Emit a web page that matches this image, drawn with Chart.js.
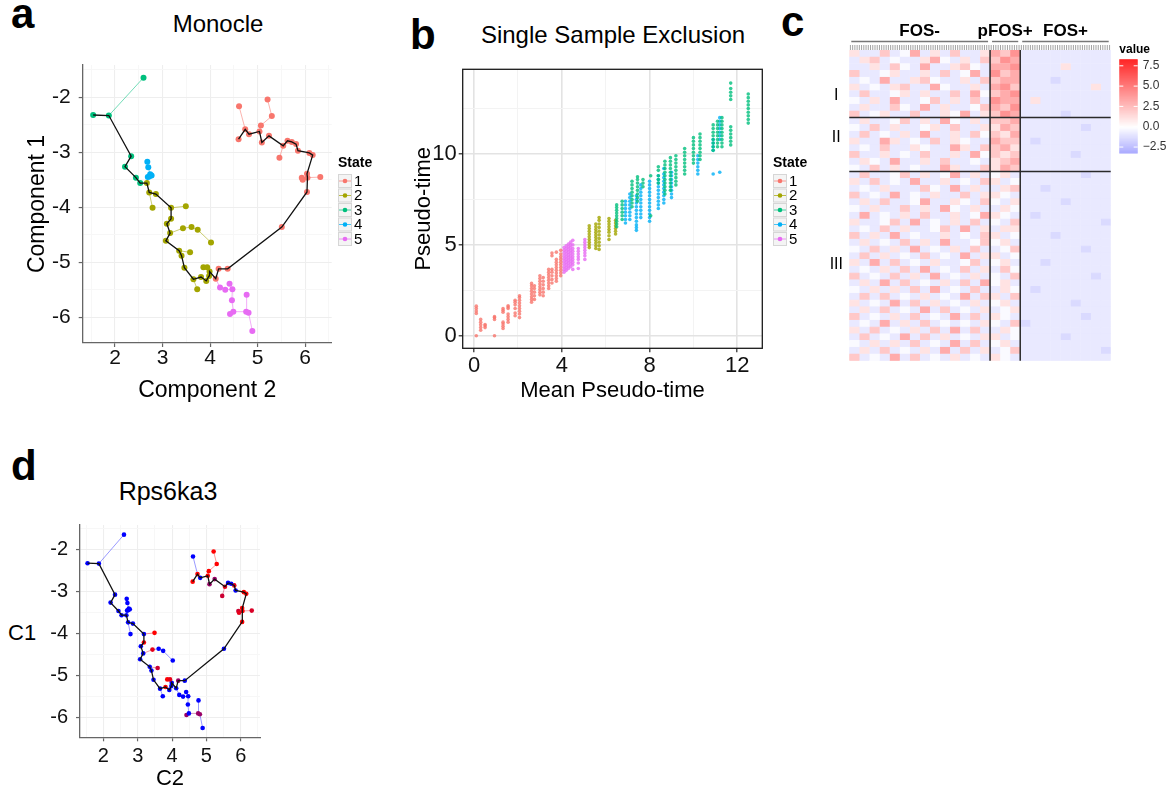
<!DOCTYPE html>
<html>
<head>
<meta charset="utf-8">
<title>Monocle trajectory figure</title>
<script src="https://cdn.jsdelivr.net/npm/chart.js@4.4.1/dist/chart.umd.min.js"></script>
<style>
  body { margin: 0; background: #fff; }
  #page { position: relative; width: 1169px; height: 794px; overflow: hidden; font-family: "Liberation Sans", Arial, sans-serif; }
  canvas { position: absolute; }
  .txt { position: absolute; white-space: nowrap; line-height: 1; color: #000; }
  .letter { font-weight: bold; font-size: 42px; }
  .title { font-size: 24px; transform: translateX(-50%); }
</style>
</head>
<body>
<div id="page">
  <div class="txt letter" style="left:11px;top:-7px">a</div>
  <div class="txt letter" style="left:410px;top:14px">b</div>
  <div class="txt letter" style="left:781px;top:1px">c</div>
  <div class="txt letter" style="left:11px;top:445px">d</div>

  <div class="txt title" style="left:218px;top:12px">Monocle</div>
  <div class="txt title" style="left:613px;top:23px">Single Sample Exclusion</div>
  <div class="txt title" style="left:168px;top:479px;font-size:25px">Rps6ka3</div>
  <div class="txt" style="left:8px;top:622px;font-size:22px">C1</div>

  <canvas id="chartA" width="400" height="404" style="left:0;top:0"></canvas>
  <canvas id="chartB" width="420" height="404" style="left:400px;top:0"></canvas>
  <canvas id="chartC" width="349" height="370" style="left:820px;top:0"></canvas>
  <canvas id="chartD" width="290" height="354" style="left:0;top:440px"></canvas>
</div>

<script>
// ---------- panel a / d : cells on the Monocle trajectory ----------
const cellX = [2.60, 1.54, 1.87, 2.34, 2.21, 2.44, 2.53,
  2.68, 2.70, 2.74, 2.69, 2.72, 2.77,
  2.67, 2.72, 2.86, 2.79, 3.18, 3.49, 3.18, 3.09, 3.16, 3.07, 3.43, 3.61, 3.74, 4.02, 3.35, 3.40, 3.58, 3.46, 3.65, 3.73, 3.81, 3.92, 3.98, 3.99, 3.86, 3.94,
  4.12, 4.18, 4.37, 5.51, 6.04, 6.05, 6.04, 5.93, 5.95, 6.32, 6.16, 6.09, 5.85, 5.81, 5.72, 5.63, 5.54, 5.46, 5.24, 5.09, 5.04, 4.82, 4.74, 4.60, 4.61, 5.21, 5.30, 5.07,
  4.21, 4.32, 4.41, 4.47, 4.46, 4.42, 4.49, 4.77, 4.76, 4.81, 4.89];
const cellY = [-1.64, -2.32, -2.33, -3.07, -3.26, -3.46, -3.56,
  -3.17, -3.27, -3.40, -3.45, -3.44, -3.42,
  -3.56, -3.73, -3.76, -4.01, -4.01, -3.98, -4.21, -4.30, -4.47, -4.61, -4.38, -4.36, -4.41, -4.64, -4.79, -4.88, -4.82, -5.10, -5.31, -5.49, -5.27, -5.34, -5.25, -5.17, -5.09, -5.09,
  -5.30, -5.12, -5.12, -4.36, -3.72, -3.46, -3.39, -3.46, -3.50, -3.45, -3.05, -3.01, -2.97, -2.85, -2.81, -2.79, -2.88, -3.10, -2.70, -2.82, -2.62, -2.67, -2.58, -2.76, -2.16, -2.04, -2.34, -2.51,
  -5.46, -5.50, -5.39, -5.49, -5.69, -5.94, -5.90, -5.59, -5.90, -5.92, -6.25];
const cellState = [3, 3, 3, 3, 3, 3, 3,
  4, 4, 4, 4, 4, 4,
  2, 2, 2, 2, 2, 2, 2, 2, 2, 2, 2, 2, 2, 2, 2, 2, 2, 2, 2, 2, 2, 2, 2, 2, 2, 2,
  1, 1, 1, 1, 1, 1, 1, 1, 1, 1, 1, 1, 1, 1, 1, 1, 1, 1, 1, 1, 1, 1, 1, 1, 1, 1, 1, 1,
  5, 5, 5, 5, 5, 5, 5, 5, 5, 5, 5];
// Rps6ka3 level per cell, 0 = low (blue) .. 1 = high (red)
const cellExpr = [0, 0, 0, 0, 0, 0, 0,
  0, 0, 0, 0, 0, 0,
  0, 0, 0, 0, 0, 1, 1, 0, 0, 0, 0.9, 0, 0, 0, 0, 0, 0.8, 0, 0, 0, 1, 0, 0, 0, 1, 0.9,
  0, 0.6, 0, 0, 1, 1, 1, 0.8, 0.9, 0.85, 1, 1, 0, 0.9, 0, 0, 0.9, 0.8, 0.6, 0.6, 1, 0, 1, 1, 0, 1, 1, 1,
  0, 0, 0, 0, 0, 0.6, 0, 0, 0.6, 0.6, 0];
const backbone = [1, 2, 3, 4, 5, 6, 13, 14, 15, 17, 19, 20, 21, 22, 27, 28, 30, 31, 33, 34, 35, 36,
  39, 40, 41, 42, 43, 44, 45, 49, 50, 51, 52, 53, 54, 55, 57, 58, 59, 60, 61, 62];
const branchEdges = [[2, 0],
  [13, 10], [10, 11], [11, 12], [12, 9], [9, 8], [8, 7],
  [14, 16], [17, 18], [21, 23], [23, 24], [24, 25], [25, 26], [27, 29], [31, 32], [36, 37], [37, 38],
  [61, 63], [59, 66], [66, 65], [65, 64], [55, 56], [44, 46], [44, 47], [44, 48],
  [39, 67], [67, 68], [68, 70], [69, 70], [70, 71], [71, 73], [73, 72], [73, 75], [75, 74], [75, 76], [76, 77]];

const stateNames = ['1', '2', '3', '4', '5'];
const stateColors = ['#F8766D', '#A3A500', '#00BF7D', '#00B0F6', '#E76BF3'];

const trajMajorX = [2, 3, 4, 5, 6];
const trajMinorX = [1.5, 2.5, 3.5, 4.5, 5.5, 6.5];
const trajMajorY = [-6, -5, -4, -3, -2];
const trajMinorY = [-5.5, -4.5, -3.5, -2.5, -1.5];

// ---------- panel b : single sample exclusion, columns of [mean pseudo-time, pseudo-times] ----------
const bState1 = [[0.1, [0, 1.23, 1.36, 1.5, 1.63]], [0.3, [0.3, 0.45, 0.6, 0.75, 0.9]], [0.5, [0.45, 0.55, 0.62]],
  [0.93, [0, 0.9, 1.0, 1.05]], [1.32, [0.4, 0.52, 0.65, 0.75, 1.3, 1.4, 1.5]],
  [1.55, [0.75, 0.9, 1.05, 1.2, 1.5, 1.58, 1.65]], [1.87, [1.1, 1.25, 1.5, 1.7, 1.85, 1.95]],
  [2.07, [1.0, 1.2, 1.35, 1.5, 1.65, 1.8, 1.95, 2.1, 2.2]],
  [2.62, [1.85, 2.0, 2.15, 2.3, 2.45, 2.6, 2.75, 2.88]], [2.75, [2.0, 2.2, 2.4, 2.6, 2.75]],
  [3.0, [2.25, 2.4, 2.55, 2.7, 2.85, 3.0, 3.15, 3.3]], [3.15, [2.2, 2.4, 2.6, 2.8, 3.0, 3.2]],
  [3.4, [2.6, 2.75, 2.9, 3.05, 3.2, 3.35, 3.5, 3.65]], [3.55, [2.9, 3.1, 3.3, 3.5, 3.65, 4.4, 4.55]],
  [3.75, [3.0, 3.15, 3.3, 3.45, 3.6, 3.75, 3.9, 4.05, 4.2, 4.6]],
  [3.95, [3.3, 3.45, 3.6, 3.75, 3.9, 4.05, 4.2, 4.35, 4.5, 4.7]]];
const bState2 = [[5.25, [4.85, 5.0, 5.15, 5.3, 5.45, 5.6, 5.75, 5.9, 6.05]],
  [5.55, [4.8, 4.95, 5.1, 5.25, 5.4, 5.55, 5.7, 5.85, 6.0, 6.15]],
  [5.7, [4.75, 4.95, 5.15, 5.35, 5.55, 5.75, 5.95, 6.15, 6.35, 6.5]],
  [6.15, [5.3, 5.5, 5.7, 5.85, 6.0, 6.15, 6.3, 6.45]], [6.45, [5.6, 5.75, 5.9, 6.05, 6.2, 6.35]]];
const bState3 = [[6.5, [6.0, 6.15, 6.3, 6.45, 6.6, 6.75, 6.9, 7.05, 7.2]], [6.75, [6.4, 6.6, 6.8, 7.0, 7.2, 7.4]],
  [7.2, [7.1, 7.3, 7.5, 7.7, 7.9, 8.1, 8.3, 8.5]], [7.45, [7.4, 7.6, 7.8, 8.0, 8.2, 8.4, 8.6, 8.75]],
  [7.7, [8.2, 8.4, 8.6]], [8.05, [6.6, 8.8]], [8.4, [8.4, 8.6, 8.8, 9.1, 9.3]],
  [8.7, [7.8, 8.0, 8.2, 8.4, 8.6, 8.8, 9.0, 9.2, 9.4, 9.6]],
  [8.95, [8.0, 8.2, 8.4, 8.6, 8.8, 9.0, 9.2, 9.4, 9.6, 9.8]],
  [9.2, [8.3, 8.5, 8.7, 8.9, 9.1, 9.3, 9.5, 9.7, 9.9]],
  [9.6, [8.9, 9.1, 9.3, 9.5, 9.7, 9.9, 10.1, 10.3]], [10.0, [9.5, 9.7, 9.9, 10.1, 10.3, 10.5, 10.7, 10.9]],
  [10.3, [9.7, 9.9, 10.1, 10.3, 10.5, 10.7, 10.9, 11.1]], [10.9, [10.2, 10.4, 10.6, 10.8, 11.0, 11.2, 11.4, 11.6]],
  [11.1, [10.4, 10.6, 10.8, 11.0, 11.2, 11.4, 11.6, 11.8]],
  [11.3, [10.4, 10.6, 10.8, 11.0, 11.2, 11.4, 11.6, 11.8, 12.0]],
  [11.7, [10.5, 10.7, 10.9, 11.1, 11.3, 11.5, 13.0, 13.2, 13.4, 13.6, 13.9]],
  [12.5, [11.7, 11.9, 12.1, 12.3, 12.5, 12.7, 12.9, 13.1, 13.3]]];
const bState4 = [[6.9, [6.2, 6.4, 6.6, 6.8, 7.0, 7.2, 7.4]], [7.1, [6.4, 6.6, 6.8, 7.0, 7.2, 7.4, 7.6, 7.8]],
  [7.4, [5.8, 5.95, 6.1, 6.3, 6.5, 6.7, 6.9, 7.1, 7.3, 7.5, 7.7]],
  [7.6, [6.5, 6.7, 6.9, 7.1, 7.3, 7.5, 7.7, 7.9, 8.1, 8.3]],
  [8.0, [6.3, 6.5, 6.7, 6.9, 7.1, 7.3, 7.5, 7.7, 7.9, 8.1, 8.3, 8.5]],
  [8.4, [7.0, 7.2, 7.4, 7.6, 7.8, 8.0, 8.2, 8.4, 8.6, 8.8]],
  [8.65, [7.3, 7.5, 7.7, 7.9, 8.1, 8.3, 8.5, 8.7, 8.9, 9.2]], [9.0, [7.6, 7.8, 8.0, 8.2, 8.4, 8.6, 8.8, 9.0]],
  [10.2, [8.9, 9.1, 9.3, 9.5, 9.7, 9.9]], [10.9, [8.9, 10.2, 10.4, 10.6, 10.8]],
  [11.2, [9.0, 10.8, 11.0, 11.2, 11.4, 11.6, 11.8, 12.0]]];
const bState5 = [[4.1, [3.5, 3.65, 3.8, 3.95, 4.1, 4.25, 4.4, 4.55, 4.7, 4.85]],
  [4.2, [3.6, 3.75, 3.9, 4.05, 4.2, 4.35, 4.5, 4.65, 4.8, 4.95]],
  [4.3, [3.7, 3.85, 4.0, 4.15, 4.3, 4.45, 4.6, 4.75, 4.9, 5.05]],
  [4.4, [3.8, 3.95, 4.1, 4.25, 4.4, 4.55, 4.7, 4.85, 5.0, 5.15]],
  [4.5, [3.65, 3.9, 4.05, 4.2, 4.35, 4.5, 4.65, 4.8, 5.0, 5.25]],
  [4.75, [3.7, 4.0, 4.2, 4.35, 4.5, 4.65, 4.8]], [5.05, [4.2, 4.4, 4.55, 4.7, 4.85, 5.0, 5.15, 5.3]]];
const bMajorX = [0, 4, 8, 12];
const bMinorX = [2, 6, 10];
const bMajorY = [0, 5, 10];
const bMinorY = [2.5, 7.5, 12.5];

// ---------- panel c : heatmap, one digit per cell (FOS- | pFOS+ | FOS+) ----------
const heatGroups = ['FOS-', 'pFOS+', 'FOS+'];
const heatGroupCols = [14, 3, 9];
const heatGroupCells = [63, 13, 40];
const heatRowGroups = ['I', 'II', 'III'];
const heatRowCounts = [10, 8, 28];
const heatRowLabelAt = [6.7, 13.0, 31.8];
// value for each digit 0..9
const heatLevels = [-1.2, -0.7, -0.15, 0.9, 1.8, 2.7, 3.5, 4.3, 5.2, 6.0];
const heatRows = [
  '31141251314113 546 111111111', '13412113521314 465 111111111', '11314215113421 556 111131111',
  '41123113141251 645 111111111', '12151134211314 455 111011111', '31213411521131 564 111111131',
  '14112313114152 456 111111111', '21315112413141 655 131111111', '13114215131124 546 111111111',
  '41231141132513 465 111101111',
  '13112413152131 445 111111111', '21413112314113 354 111111011', '14121315113142 435 111111111',
  '31153121413211 544 101111111', '12141132115314 453 111111111', '41131214113152 434 111110111',
  '13215113141121 345 111111111', '21413121153114 354 111111111',
  '14112413125131 231 111111011', '31412151131214 312 111111111', '12131114215131 134 110111111',
  '41215121311413 321 111111111', '13141125113214 213 111101111', '21311413152131 132 111111111',
  '15121314113125 321 101111111', '31124151213141 214 111111110', '12141311241513 133 111111111',
  '41315121131214 312 111011111', '13121413151124 231 111111111', '21413151213141 124 111111011',
  '14131214121513 312 111111111', '31514121311241 231 110111111', '12131415121413 142 111111111',
  '41214131512131 214 111111101', '13151412131415 231 111111111', '21313141512141 132 101111111',
  '14141213121514 314 111111111', '31215141312131 231 111110111', '13141215141213 123 111111111',
  '41213141215141 321 111111011', '12151314121213 214 011111111', '31412131415141 132 111111111',
  '14121514131213 312 111101111', '21313141215141 231 111111111', '13141213151413 124 111111110',
  '41215141213121 321 111111111'];
const heatLegendTicks = [7.5, 5.0, 2.5, 0.0, -2.5];
const heatLegendRange = [-3.27, 8.3];

const FONT = '"Liberation Sans", Arial, sans-serif';
Chart.defaults.font.family = FONT;

function withAlpha(hex, a) {
  if (hex.startsWith('rgb(')) return hex.replace('rgb(', 'rgba(').replace(')', ',' + a + ')');
  const n = parseInt(hex.slice(1), 16);
  return `rgba(${(n >> 16) & 255},${(n >> 8) & 255},${n & 255},${a})`;
}

function exprColor(e) {
  return `rgb(${Math.round(255 * e)},0,${Math.round(255 * (1 - e))})`;
}

function heatColor(v) {
  const t = Math.min(Math.abs(v) / heatLegendRange[1], 1);
  const k = Math.round(255 * (1 - t));
  return v >= 0 ? `rgb(255,${k},${k})` : `rgb(${k},${k},255)`;
}

function linAxis(o) {
  const isMajor = v => o.major.includes(v);
  return {
    type: 'linear',
    position: o.position,
    min: o.min,
    max: o.max,
    afterBuildTicks: s => { s.ticks = o.major.concat(o.minor).sort((p, q) => p - q).map(v => ({ value: v })); },
    afterFit: s => { if (o.position === 'bottom') s.height = o.size; else s.width = o.size; },
    grid: {
      color: c => isMajor(c.tick.value) ? o.majorColor : o.minorColor,
      lineWidth: c => isMajor(c.tick.value) ? o.majorWidth : o.minorWidth,
      tickColor: c => isMajor(c.tick.value) ? o.tickColor : 'rgba(0,0,0,0)',
      tickWidth: 1.2,
      tickLength: 4,
      drawTicks: true
    },
    border: { display: o.border, color: o.tickColor, width: 1.3 },
    ticks: {
      padding: o.pad,
      color: '#111',
      font: { size: o.fontSize },
      maxRotation: 0,
      autoSkip: false,
      callback: v => isMajor(v) ? String(v) : ''
    },
    title: o.title
      ? { display: true, text: o.title, color: '#000', font: { size: o.titleSize }, padding: { top: 0, bottom: o.titlePad || 0 } }
      : { display: false }
  };
}

// legend "State" with boxed keys
const stateLegend = {
  id: 'stateLegend',
  afterDraw(chart, args, o) {
    const ctx = chart.ctx;
    ctx.save();
    ctx.textBaseline = 'middle';
    ctx.textAlign = 'left';
    ctx.fillStyle = '#000';
    ctx.font = 'bold 14px ' + FONT;
    ctx.fillText('State', o.x, o.y);
    ctx.font = '15px ' + FONT;
    stateNames.forEach((s, i) => {
      const cy = o.y + 18 + i * 14.5;
      ctx.fillStyle = '#f4f4f4';
      ctx.fillRect(o.x, cy - 7, 14, 14);
      ctx.strokeStyle = '#d6d6d6';
      ctx.lineWidth = 1;
      ctx.strokeRect(o.x + 0.5, cy - 6.5, 13, 13);
      ctx.strokeStyle = withAlpha(stateColors[i], 0.7);
      ctx.beginPath(); ctx.moveTo(o.x + 1, cy); ctx.lineTo(o.x + 13, cy); ctx.stroke();
      ctx.fillStyle = stateColors[i];
      ctx.beginPath(); ctx.arc(o.x + 7, cy, 2.3, 0, Math.PI * 2); ctx.fill();
      ctx.fillStyle = '#000';
      ctx.fillText(s, o.x + 16, cy + 0.5);
    });
    ctx.restore();
  }
};

const panelBorder = {
  id: 'panelBorder',
  afterDraw(chart) {
    const { ctx, chartArea: a } = chart;
    ctx.save();
    ctx.strokeStyle = '#1a1a1a';
    ctx.lineWidth = 1.3;
    ctx.strokeRect(a.left, a.top, a.right - a.left, a.bottom - a.top);
    ctx.restore();
  }
};

function pt(i) { return { x: cellX[i], y: cellY[i] }; }

function trajDatasets(edgeColor, pointSets) {
  const ds = branchEdges.map(([i, j]) => ({
    data: [pt(i), pt(j)],
    showLine: true,
    borderColor: edgeColor(j),
    borderWidth: 1,
    pointRadius: 0,
    order: 2
  }));
  ds.push({
    data: backbone.map(pt),
    showLine: true,
    borderColor: '#111',
    borderWidth: 1.3,
    pointRadius: 0,
    order: 0
  });
  return ds.concat(pointSets);
}

function trajScales(o) {
  const common = { majorColor: '#eeeeee', minorColor: '#f7f7f7', majorWidth: 1.1, minorWidth: 1, tickColor: '#666', border: true };
  return {
    x: linAxis(Object.assign({}, common, {
      position: 'bottom', min: 1.32, max: 6.56, major: trajMajorX, minor: trajMinorX,
      size: o.xSize, pad: o.xPad, fontSize: o.fontSize, title: o.xTitle, titleSize: o.titleSize, titlePad: o.titlePad
    })),
    y: linAxis(Object.assign({}, common, {
      position: 'left', min: -6.47, max: -1.41, major: trajMajorY, minor: trajMinorY,
      size: o.ySize, pad: o.yPad, fontSize: o.fontSize, title: o.yTitle, titleSize: o.titleSize
    }))
  };
}

const baseOpts = { responsive: false, animation: false, devicePixelRatio: 1 };

// ----- a -----
const statePoints = stateNames.map((s, k) => ({
  label: s,
  data: cellX.map((x, i) => i).filter(i => cellState[i] === k + 1).map(pt),
  backgroundColor: stateColors[k],
  borderWidth: 0,
  pointRadius: 3,
  order: 1
}));

new Chart(document.getElementById('chartA'), {
  type: 'scatter',
  data: { datasets: trajDatasets(j => withAlpha(stateColors[cellState[j] - 1], 0.55), statePoints) },
  options: Object.assign({}, baseOpts, {
    layout: { padding: { left: 24, right: 68.3, top: 65, bottom: 0 } },
    plugins: { legend: { display: false }, tooltip: { enabled: false }, stateLegend: { x: 338, y: 163 } },
    scales: trajScales({ xSize: 61, ySize: 58.7, xPad: -1, yPad: 8, fontSize: 21, titleSize: 23,
      xTitle: 'Component 2', yTitle: 'Component 1' })
  }),
  plugins: [stateLegend]
});

// ----- b -----
function colPoints(cols) {
  return cols.flatMap(([x, ys]) => ys.map(y => ({ x, y })));
}
const bSets = [bState1, bState2, bState3, bState4, bState5];
const bOrder = [2, 2, 0, 1, 2];

new Chart(document.getElementById('chartB'), {
  type: 'scatter',
  data: {
    datasets: bSets.map((cols, k) => ({
      label: stateNames[k],
      data: colPoints(cols),
      backgroundColor: withAlpha(stateColors[k], 0.8),
      borderWidth: 0,
      pointRadius: 1.8,
      order: bOrder[k]
    }))
  },
  options: Object.assign({}, baseOpts, {
    layout: { padding: { left: 10.8, right: 57.7, top: 69.3, bottom: 0 } },
    plugins: { legend: { display: false }, tooltip: { enabled: false }, stateLegend: { x: 373, y: 163 } },
    scales: {
      x: linAxis({ position: 'bottom', min: -0.52, max: 13.14, major: bMajorX, minor: bMinorX,
        majorColor: '#e3e3e3', minorColor: '#f3f3f3', majorWidth: 1.6, minorWidth: 1, tickColor: '#222', border: false,
        size: 55.7, pad: 0, fontSize: 22, title: 'Mean Pseudo-time', titleSize: 22 }),
      y: linAxis({ position: 'left', min: -0.69, max: 14.66, major: bMajorY, minor: bMinorY,
        majorColor: '#e3e3e3', minorColor: '#f3f3f3', majorWidth: 1.6, minorWidth: 1, tickColor: '#222', border: false,
        size: 51.9, pad: 2, fontSize: 22, title: 'Pseudo-time', titleSize: 22 })
    }
  }),
  plugins: [stateLegend, panelBorder]
});

// ----- c -----
const heatCells = heatRows.map(r => r.replace(/ /g, ''));
const heatNCols = heatGroupCols.reduce((p, q) => p + q, 0);
const heatDatasets = [];
for (let j = 0; j < heatNCols; j++) {
  const colors = heatCells.map(r => heatColor(heatLevels[Number(r[j])]));
  heatDatasets.push({
    data: heatCells.map(() => [j, j + 1]),
    backgroundColor: colors,
    borderColor: colors,
    borderWidth: 0.6,
    borderSkipped: false,
    grouped: false,
    barPercentage: 1,
    categoryPercentage: 1
  });
}

const heatDecor = {
  id: 'heatDecor',
  afterDatasetsDraw(chart) {
    const { ctx, chartArea: a, scales: { x } } = chart;
    const rowH = (a.bottom - a.top) / heatCells.length;
    ctx.save();
    // column ticks, group brackets and labels
    let c0 = 0;
    heatGroups.forEach((g, k) => {
      const gl = x.getPixelForValue(c0);
      const gr = x.getPixelForValue(c0 + heatGroupCols[k]);
      const n = heatGroupCells[k];
      ctx.strokeStyle = '#8c8c8c';
      ctx.lineWidth = 0.8;
      for (let t = 0; t < n; t++) {
        const px = gl + (t + 0.5) * (gr - gl) / n;
        ctx.beginPath(); ctx.moveTo(px, a.top - 5); ctx.lineTo(px, a.top); ctx.stroke();
      }
      ctx.strokeStyle = '#777';
      ctx.lineWidth = 1.4;
      ctx.beginPath(); ctx.moveTo(gl + 2, a.top - 8.5); ctx.lineTo(gr - 2, a.top - 8.5); ctx.stroke();
      ctx.fillStyle = '#000';
      ctx.font = 'bold 17px ' + FONT;
      ctx.textAlign = 'center';
      ctx.textBaseline = 'middle';
      ctx.fillText(g, (gl + gr) / 2, 31);
      c0 += heatGroupCols[k];
    });
    // separators
    ctx.strokeStyle = '#2a2a2a';
    ctx.lineWidth = 1.5;
    let c = 0;
    heatGroupCols.slice(0, -1).forEach(n => {
      c += n;
      const px = x.getPixelForValue(c);
      ctx.beginPath(); ctx.moveTo(px, a.top); ctx.lineTo(px, a.bottom); ctx.stroke();
    });
    let r = 0;
    heatRowCounts.slice(0, -1).forEach(n => {
      r += n;
      const py = a.top + r * rowH;
      ctx.beginPath(); ctx.moveTo(a.left, py); ctx.lineTo(a.right, py); ctx.stroke();
    });
    // row group labels
    ctx.fillStyle = '#000';
    ctx.font = '16px ' + FONT;
    heatRowGroups.forEach((g, k) => ctx.fillText(g, a.left - 13, a.top + heatRowLabelAt[k] * rowH));
    // colour legend
    const lx = a.right + 8.6, lw = 18.4, ltop = 59.3, lbot = 153.3;
    const [vmin, vmax] = heatLegendRange;
    for (let py = ltop; py < lbot; py++) {
      const v = vmax - (py - ltop) / (lbot - ltop) * (vmax - vmin);
      ctx.fillStyle = heatColor(v);
      ctx.fillRect(lx, py, lw, 1.2);
    }
    ctx.fillStyle = '#000';
    ctx.font = 'bold 12px ' + FONT;
    ctx.textAlign = 'left';
    ctx.fillText('value', lx, 50);
    ctx.font = '12px ' + FONT;
    heatLegendTicks.forEach(v => {
      const py = ltop + (vmax - v) / (vmax - vmin) * (lbot - ltop);
      ctx.strokeStyle = '#fff';
      ctx.lineWidth = 1;
      ctx.beginPath(); ctx.moveTo(lx, py); ctx.lineTo(lx + 4, py); ctx.stroke();
      ctx.beginPath(); ctx.moveTo(lx + lw - 4, py); ctx.lineTo(lx + lw, py); ctx.stroke();
      ctx.fillStyle = '#333';
      ctx.fillText(v.toFixed(1).replace('-', '\u2212'), lx + lw + 5, py);
    });
    ctx.restore();
  }
};

new Chart(document.getElementById('chartC'), {
  type: 'bar',
  data: { labels: heatCells.map((r, i) => String(i)), datasets: heatDatasets },
  options: Object.assign({}, baseOpts, {
    indexAxis: 'y',
    layout: { padding: { left: 29.3, right: 58.3, top: 50, bottom: 9.3 } },
    plugins: { legend: { display: false }, tooltip: { enabled: false } },
    scales: {
      x: { type: 'linear', min: 0, max: heatNCols, display: false },
      y: { type: 'category', display: false, offset: true }
    }
  }),
  plugins: [heatDecor]
});

// ----- d -----
new Chart(document.getElementById('chartD'), {
  type: 'scatter',
  data: {
    datasets: trajDatasets(j => withAlpha(exprColor(cellExpr[j]), 0.4), [{
      label: 'Rps6ka3',
      data: cellX.map((x, i) => pt(i)),
      backgroundColor: cellExpr.map(exprColor),
      borderWidth: 0,
      pointRadius: 2.3,
      order: 1
    }])
  },
  options: Object.assign({}, baseOpts, {
    layout: { padding: { left: 0, right: 30, top: 85, bottom: 0 } },
    plugins: { legend: { display: false }, tooltip: { enabled: false } },
    scales: trajScales({ xSize: 56.7, ySize: 80, xPad: 3, yPad: 8, fontSize: 20, titleSize: 22,
      xTitle: 'C2', yTitle: null, titlePad: 1.5 })
  })
});
</script>
</body>
</html>
